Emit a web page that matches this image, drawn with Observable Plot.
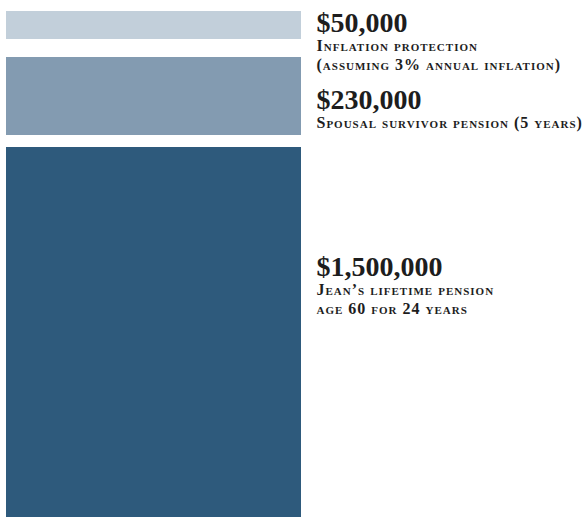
<!DOCTYPE html>
<html><head><meta charset="utf-8">
<script src="https://cdn.jsdelivr.net/npm/d3@7"></script>
<script src="https://cdn.jsdelivr.net/npm/@observablehq/plot@0.6"></script>
<style>
  html, body { margin: 0; padding: 0; background: #fff; }
  #chart svg { display: block; }
</style>
</head>
<body>
<div id="chart"></div>
<script>
// Components of the pension value, listed bottom to top
const components = ["Jean’s lifetime pension", "Spousal survivor pension", "Inflation protection"];
const values = [1500000, 230000, 50000];
const amountLabels = ["$1,500,000", "$230,000", "$50,000"];
const descriptions = [
  "Jean’s lifetime pension\nage 60 for 24 years",
  "Spousal survivor pension (5 years)",
  "Inflation protection\n(assuming 3% annual inflation)"
];
// The graphic is not drawn to scale: pictured block heights, in chart units
const blockHeights = [370, 78, 28];
const gapsBelow = [0, 12, 18];
// Where each label's amount sits, in chart units
const labelLevels = [241.5, 408.5, 485.5];

const rows = [];
let acc = 0;
components.forEach((c, i) => {
  acc += gapsBelow[i];
  const y1 = acc;
  acc += blockHeights[i];
  rows.push({
    group: "Jean",
    component: c,
    value: values[i],
    amount: amountLabels[i],
    description: descriptions[i],
    y1, y2: acc,
    level: labelLevels[i]
  });
});

const font = "'Liberation Serif', 'Times New Roman', serif";
const ink = "#1d1d1d";

const chart = Plot.plot({
  width: 585,
  height: 517,
  marginTop: 11,
  marginBottom: 0,
  marginLeft: 0,
  marginRight: 0,
  style: {background: "#fff"},
  x: {type: "band", domain: ["Jean"], range: [6, 301], padding: 0, axis: null},
  y: {domain: [0, acc], axis: null},
  color: {domain: components, range: ["#2e5a7c", "#839bb1", "#c2cfda"]},
  marks: [
    Plot.barY(rows, {x: "group", y1: "y1", y2: "y2", fill: "component"}),
    Plot.text(rows, {
      x: "group", y: "level", text: "amount",
      textAnchor: "start", lineAnchor: "bottom", dx: 162.5,
      fontSize: 28, fontWeight: "bold", fontFamily: font, fill: ink
    }),
    Plot.text(rows, {
      x: "group", y: "level", text: "description",
      textAnchor: "start", lineAnchor: "top", dx: 162.5, dy: 5,
      lineHeight: 1.19,
      fontSize: 16, fontWeight: "bold", fontVariant: "small-caps", fontFamily: font, fill: ink
    })
  ]
});

// Slight tracking on the small-caps descriptions (second text mark)
d3.select(chart).selectAll('g[aria-label="text"]')
  .filter((d, i) => i === 1)
  .style("letter-spacing", "1px");

document.getElementById("chart").append(chart);
</script>
</body></html>
